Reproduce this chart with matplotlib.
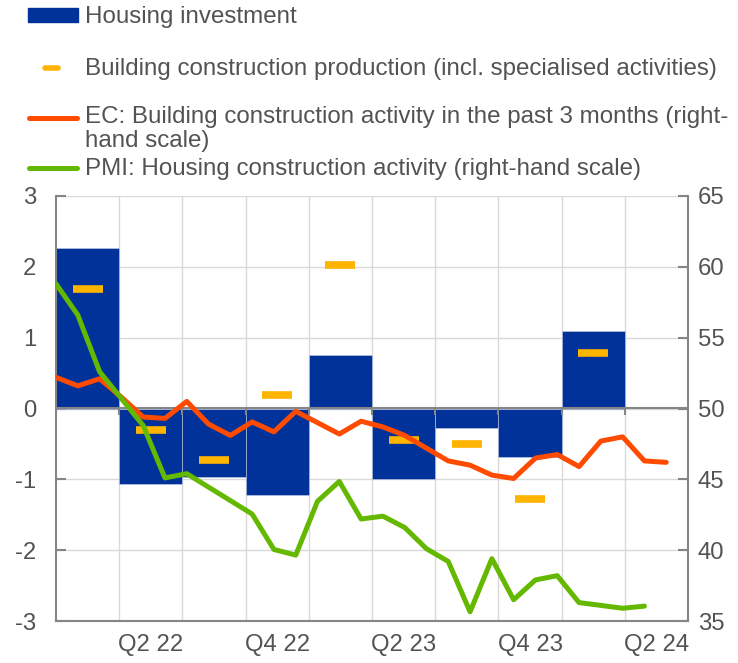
import numpy as np
import matplotlib
matplotlib.use("Agg")
import matplotlib.pyplot as plt
from matplotlib.patches import Rectangle
from matplotlib.lines import Line2D

# ---------------- data ----------------
quarters = ["Q1 22", "Q2 22", "Q3 22", "Q4 22", "Q1 23",
            "Q2 23", "Q3 23", "Q4 23", "Q1 24", "Q2 24"]
housing_investment = [2.27, -1.06, -0.97, -1.22, 0.75,
                      -1.00, -0.28, -0.69, 1.09, np.nan]
building_production = [1.69, -0.31, -0.73, 0.19, 2.03,
                       -0.44, -0.50, -1.28, 0.78, np.nan]
n_months = 30  # Jan 22 - Jun 24
ec_activity = [52.2, 51.6, 52.1, 50.8, 49.4, 49.3, 50.5, 48.9, 48.1, 49.05,
               48.35, 49.8, 49.0, 48.2, 49.1, 48.7, 48.1, 47.2, 46.3, 46.0,
               45.3, 45.06, 46.5, 46.75, 45.9, 47.7, 48.0, 46.3, 46.2]
pmi_housing = [58.8, 56.6, 52.6, 50.7, 48.8, 45.1, 45.4, 44.45, 43.5, 42.55,
               40.05, 39.65, 43.45, 44.85, 42.2, 42.4, 41.6, 40.1, 39.2, 35.65,
               39.4, 36.5, 37.9, 38.2, 36.3, 36.1, 35.9, 36.05]

labels = ["Housing investment",
          "Building construction production (incl. specialised activities)",
          "EC: Building construction activity in the past 3 months (right-\nhand scale)",
          "PMI: Housing construction activity (right-hand scale)"]

# ---------------- style ----------------
BLUE = "#003299"
YELLOW = "#FFB400"
ORANGE = "#FF4B00"
GREEN = "#65B800"
TEXT = "#535353"
SPINE = "#858585"
GRID = "#d9d9d9"
FS = 17.2
LFS = 17.4

plt.rcParams['font.family'] = ['Liberation Sans', 'DejaVu Sans']
plt.rcParams['axes.unicode_minus'] = False

W, H = 738, 663
fig = plt.figure(figsize=(W / 100, H / 100), dpi=100)
ax = fig.add_axes([56 / W, 1 - 621 / H, (688 - 56) / W, (621 - 196) / H])
ax2 = ax.twinx()

nq = len(quarters)
qx = np.arange(nq) + 0.5
ax.bar(qx, housing_investment, width=1.0, color=BLUE, edgecolor="#c8d0e4",
       linewidth=0.4, zorder=2)
ax.plot(qx, building_production, ls='none', marker='_', ms=21, mew=5.5,
        color=YELLOW, zorder=3)

mx = np.arange(n_months) * nq / (n_months - 1)
ax2.plot(mx[:len(ec_activity)], ec_activity, color=ORANGE, lw=3.6,
         solid_joinstyle='round', solid_capstyle='round', zorder=3)
ax2.plot(mx[:len(pmi_housing)], pmi_housing, color=GREEN, lw=3.6,
         solid_joinstyle='round', solid_capstyle='round', zorder=4)

ax.set_xlim(0, nq)
ax.set_ylim(-3, 3)
ax2.set_ylim(35, 65)

ax.set_xticks(qx[1::2])
ax.set_xticklabels(quarters[1::2])
ax.set_xticks(np.arange(1, nq), minor=True)
ax.set_yticks(np.arange(-3, 4))
ax2.set_yticks(np.arange(35, 66, 5))

ax.set_axisbelow(True)
ax.grid(which='minor', axis='x', color=GRID, lw=1)
ax.grid(which='major', axis='y', color=GRID, lw=1)
ax.xaxis.grid(False, which='major')

ax.tick_params(axis='x', which='both', length=0, pad=9, labelsize=FS,
               labelcolor=TEXT)
ax.tick_params(axis='y', direction='in', length=7, width=1.5, color=SPINE,
               pad=14, labelsize=FS, labelcolor=TEXT)
ax2.tick_params(axis='y', direction='in', length=7, width=1.5, color=SPINE,
                pad=7, labelsize=FS, labelcolor=TEXT)

for s in ['top', 'right']:
    ax.spines[s].set_visible(False)
for s in ['left', 'bottom']:
    ax.spines[s].set_color(SPINE)
    ax.spines[s].set_linewidth(1.5)
for s in ['top', 'left', 'bottom']:
    ax2.spines[s].set_visible(False)
ax2.spines['right'].set_color(SPINE)
ax2.spines['right'].set_linewidth(1.5)

# zero line with quarter ticks pointing down
sec = ax.secondary_xaxis(0.5)
sec.set_xticks(np.arange(1, nq))
sec.set_xticklabels([])
sec.xaxis.set_ticks_position('bottom')
sec.tick_params(direction='out', length=5, width=1.5, color=SPINE,
                labelbottom=False, labeltop=False)
for s in sec.spines.values():
    s.set_color(SPINE)
    s.set_linewidth(1.5)
sec.set_zorder(4)

# ---------------- legend ----------------
def fx(px):
    return px / W

def fy(py):
    return 1 - py / H

tx = 85
fig.add_artist(Rectangle((fx(28), fy(22)), fx(50), 14 / H, color=BLUE,
                         transform=fig.transFigure))
fig.text(fx(tx), fy(17), labels[0], fontsize=LFS, color=TEXT, va='center')

fig.add_artist(Line2D([fx(45), fx(58)], [fy(68), fy(68)], color=YELLOW,
                      lw=4, solid_capstyle='round', transform=fig.transFigure))
fig.text(fx(tx), fy(69), labels[1], fontsize=LFS, color=TEXT, va='center')

fig.add_artist(Line2D([fx(29), fx(77)], [fy(118), fy(118)], color=ORANGE,
                      lw=3.6, solid_capstyle='round', transform=fig.transFigure))
fig.text(fx(tx), fy(106), labels[2], fontsize=LFS, color=TEXT, va='top',
         linespacing=1.1)

fig.add_artist(Line2D([fx(29), fx(77)], [fy(168), fy(168)], color=GREEN,
                      lw=3.6, solid_capstyle='round', transform=fig.transFigure))
fig.text(fx(tx), fy(169), labels[3], fontsize=LFS, color=TEXT, va='center')

fig.savefig("out.png", dpi=100)
